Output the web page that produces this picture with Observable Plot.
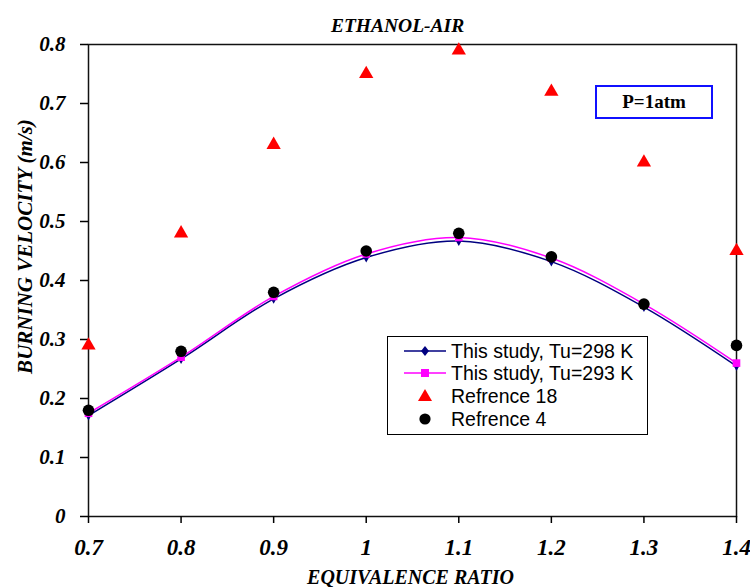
<!DOCTYPE html>
<html>
<head>
<meta charset="utf-8">
<script src="https://cdn.jsdelivr.net/npm/d3@7"></script>
<script src="https://cdn.jsdelivr.net/npm/@observablehq/plot@0.6"></script>
<style>
  html, body { margin: 0; padding: 0; background: #fff; }
  #wrap { position: relative; width: 750px; height: 587px; overflow: hidden; }
  .legend { position: absolute; left: 387px; top: 336px; width: 259px; height: 97px;
    border: 1.5px solid #000; background: #fff; font-family: 'Liberation Sans', Arial, sans-serif; font-size: 19.5px; color: #000; }
  .row { position: absolute; left: 0; height: 22px; display: flex; align-items: center; white-space: nowrap; }
  .row svg { margin-left: 16px; margin-right: 5px; }
  .pbox { position: absolute; left: 595px; top: 85px; width: 114px; height: 30px;
    border: 2px solid #1010ff; background: #fff; font-family: 'Liberation Serif', 'Times New Roman', serif;
    font-weight: bold; font-size: 19px; display: flex; align-items: center; justify-content: center; color: #000; }
</style>
</head>
<body>
<div id="wrap"></div>
<script>
const phi = [0.7, 0.8, 0.9, 1.0, 1.1, 1.2, 1.3, 1.4];
const su298 = [0.171, 0.267, 0.369, 0.439, 0.467, 0.432, 0.355, 0.255];
const su293 = [0.175, 0.270, 0.373, 0.445, 0.473, 0.438, 0.360, 0.260];
const ref18 = [0.29, 0.48, 0.63, 0.75, 0.79, 0.72, 0.60, 0.45];
const ref4 = [0.18, 0.28, 0.38, 0.45, 0.48, 0.44, 0.36, 0.29];
const xTicks = [0.7, 0.8, 0.9, 1.0, 1.1, 1.2, 1.3, 1.4];
const yTicks = [0, 0.1, 0.2, 0.3, 0.4, 0.5, 0.6, 0.7, 0.8];
const seriesNames = ["This study, Tu=298 K", "This study, Tu=293 K", "Refrence 18", "Refrence 4"];
const titleText = "ETHANOL-AIR";
const xLabel = "EQUIVALENCE RATIO";
const yLabel = "BURNING VELOCITY (m/s)";
const pressureNote = "P=1atm";

const rows = (ys) => phi.map((x, i) => ({x, y: ys[i]}));
const d298 = rows(su298), d293 = rows(su293), d18 = rows(ref18), d4 = rows(ref4);

const BLUE = "#000080", PINK = "#ff00ff", RED = "#ff0000";
const serif = "'Liberation Serif', 'Times New Roman', serif";

const chart = Plot.plot({
  width: 750, height: 587,
  marginLeft: 88, marginRight: 14, marginTop: 44, marginBottom: 71,
  style: { fontFamily: serif, fontSize: "20px", fontWeight: "bold", fontStyle: "italic", background: "#fff", overflow: "visible", color: "#000" },
  x: { domain: [0.7, 1.4] },
  y: { domain: [0, 0.8] },
  marks: [
    Plot.frame({ stroke: "#111", strokeWidth: 1.5 }),
    Plot.axisX(xTicks, { tickSize: 7, tickPadding: 15, strokeWidth: 1.5, fontSize: 23, tickFormat: d => String(d), label: null }),
    Plot.axisY(yTicks, { tickSize: 8, tickPadding: 15, strokeWidth: 1.5, fontSize: 21, tickFormat: d => String(d), label: null }),
    Plot.line(d298, { x: "x", y: "y", stroke: BLUE, strokeWidth: 1.5, curve: "catmull-rom" }),
    Plot.dot(d298, { x: "x", y: "y", symbol: "diamond", fill: BLUE, r: 3 }),
    Plot.line(d293, { x: "x", y: "y", stroke: PINK, strokeWidth: 1.5, curve: "catmull-rom" }),
    Plot.dot(d293, { x: "x", y: "y", symbol: "square", fill: PINK, r: 4.3 }),
    Plot.dot(d18, { x: "x", y: "y", symbol: "triangle", fill: RED, r: 5.3 }),
    Plot.dot(d4, { x: "x", y: "y", symbol: "circle", fill: "#000", r: 5.8 }),
    Plot.text([titleText], { frameAnchor: "top", dx: -15, dy: -19, textAnchor: "middle", lineAnchor: "middle", fontSize: 19.5, fill: "#000" }),
    Plot.text([xLabel], { frameAnchor: "bottom", dx: -2, dy: 61, textAnchor: "middle", lineAnchor: "middle", fontSize: 20, fill: "#000" }),
    Plot.text([yLabel], { frameAnchor: "left", dx: -63, dy: -34, rotate: -90, textAnchor: "middle", lineAnchor: "middle", fontSize: 21, fill: "#000" })
  ]
});
const wrap = document.getElementById("wrap");
wrap.appendChild(chart);

// P=1atm annotation
const pb = document.createElement("div");
pb.className = "pbox";
pb.textContent = pressureNote;
wrap.appendChild(pb);

// Legend
const lg = document.createElement("div");
lg.className = "legend";
const symbols = [
  `<line x1="0" y1="10" x2="42" y2="10" stroke="${BLUE}" stroke-width="1.5"/><path d="M21,5 L25,10 L21,15 L17,10 Z" fill="${BLUE}"/>`,
  `<line x1="0" y1="10" x2="42" y2="10" stroke="${PINK}" stroke-width="1.5"/><rect x="17" y="6" width="8" height="8" fill="${PINK}"/>`,
  `<path d="M21,3 L28,15 L14,15 Z" fill="${RED}"/>`,
  `<circle cx="21" cy="10" r="5.6" fill="#000"/>`
];
const tops = [3, 25, 48, 71];
seriesNames.forEach((name, i) => {
  const r = document.createElement("div");
  r.className = "row";
  r.style.top = tops[i] + "px";
  r.innerHTML = `<svg width="42" height="20">${symbols[i]}</svg><span>${name}</span>`;
  lg.appendChild(r);
});
wrap.appendChild(lg);
</script>
</body>
</html>
